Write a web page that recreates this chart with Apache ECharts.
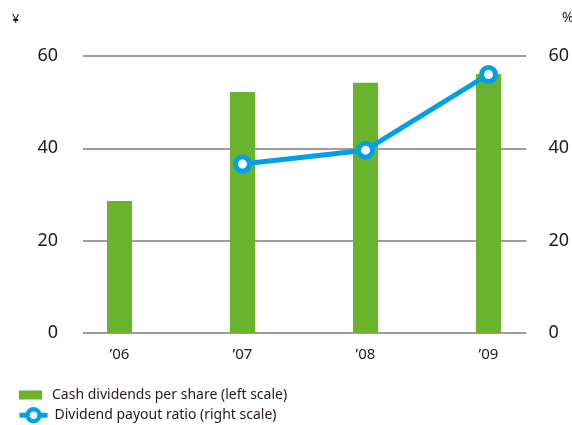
<!DOCTYPE html>
<html>
<head>
<meta charset="utf-8">
<script src="https://cdn.jsdelivr.net/npm/echarts@6/dist/echarts.min.js"></script>
<style>
  html, body { margin: 0; padding: 0; background: #fff; }
  #chart { width: 572px; height: 425px; }
</style>
</head>
<body>
<div id="chart"></div>
<script>
// Fiscal years
const years = ['’06', '’07', '’08', '’09'];
// Cash dividends per share, yen (left scale)
const cashDividends = [28.6, 52.2, 54.2, 56.1];
// Dividend payout ratio, % (right scale); no value for '06
const payoutRatio = [null, 36.6, 39.6, 56.0];
// Tick values shared by both scales
const scaleMin = 0, scaleMax = 60, scaleStep = 20;

const barName = 'Cash dividends per share (left scale)';
const lineName = 'Dividend payout ratio (right scale)';

const GREEN = '#6ab42d';
const BLUE = '#00a0e9';
const TEXT = '#231815';
const FONT = '"Noto Sans", "Open Sans", sans-serif';

const chart = echarts.init(document.getElementById('chart'), null, { renderer: 'canvas' });

chart.setOption({
  animation: false,
  textStyle: { fontFamily: FONT, color: TEXT },
  grid: [
    // grid 0: bars, line and year labels
    { left: 58, right: 22, top: 56, bottom: 92 },
    // grid 1: scale lines and tick labels
    { left: 83, right: 42, top: 56, bottom: 92 }
  ],
  xAxis: [
    {
      type: 'category', gridIndex: 0, data: years, boundaryGap: true,
      axisLine: { show: false }, axisTick: { show: false },
      axisLabel: { fontSize: 15, color: TEXT, margin: 14, fontFamily: FONT }
    },
    {
      type: 'value', gridIndex: 1, min: 0, max: 1, show: false
    }
  ],
  yAxis: [
    { type: 'value', gridIndex: 0, min: scaleMin, max: scaleMax, show: false },
    { type: 'value', gridIndex: 0, min: scaleMin, max: scaleMax, show: false },
    {
      type: 'value', gridIndex: 1, position: 'left',
      min: scaleMin, max: scaleMax, interval: scaleStep,
      axisLine: { show: false }, axisTick: { show: false },
      axisLabel: { fontSize: 18, color: TEXT, margin: 25, fontFamily: FONT },
      splitLine: { show: true, lineStyle: { color: '#7d7d7d', width: 1.5 } }
    },
    {
      type: 'value', gridIndex: 1, position: 'right',
      min: scaleMin, max: scaleMax, interval: scaleStep,
      axisLine: { show: false }, axisTick: { show: false },
      axisLabel: { fontSize: 18, color: TEXT, margin: 22, fontFamily: FONT },
      splitLine: { show: false }
    }
  ],
  legend: [
    {
      data: [{ name: barName, icon: 'rect' }],
      orient: 'vertical', left: 14, top: 383,
      itemWidth: 23, itemHeight: 9,
      textStyle: { fontSize: 14, color: TEXT, fontFamily: FONT, padding: [0, 0, 0, 5] }
    },
    {
      data: [{
        name: lineName,
        lineStyle: { width: 5, color: BLUE },
        itemStyle: { color: '#fff', borderColor: BLUE, borderWidth: 4.5 }
      }],
      orient: 'vertical', left: 12, top: 402,
      itemWidth: 28, itemHeight: 15,
      textStyle: { fontSize: 14, color: TEXT, fontFamily: FONT, padding: [0, 0, 0, 2] }
    }
  ],
  graphic: [
    { type: 'text', left: 12, top: 13, style: { text: '¥', fontSize: 13, fill: TEXT, fontFamily: FONT } },
    { type: 'text', left: 562, top: 11, style: { text: '%', fontSize: 14, fill: TEXT, fontFamily: FONT } }
  ],
  series: [
    {
      name: barName, type: 'bar', xAxisIndex: 0, yAxisIndex: 0,
      data: cashDividends, barWidth: 25,
      itemStyle: { color: GREEN }, z: 3
    },
    {
      name: lineName, type: 'line', xAxisIndex: 0, yAxisIndex: 1,
      data: payoutRatio, connectNulls: false,
      symbol: 'circle', symbolSize: 14, showAllSymbol: true,
      lineStyle: { color: BLUE, width: 5 },
      itemStyle: { color: '#fff', borderColor: BLUE, borderWidth: 5 },
      z: 4
    }
  ]
});
</script>
</body>
</html>
